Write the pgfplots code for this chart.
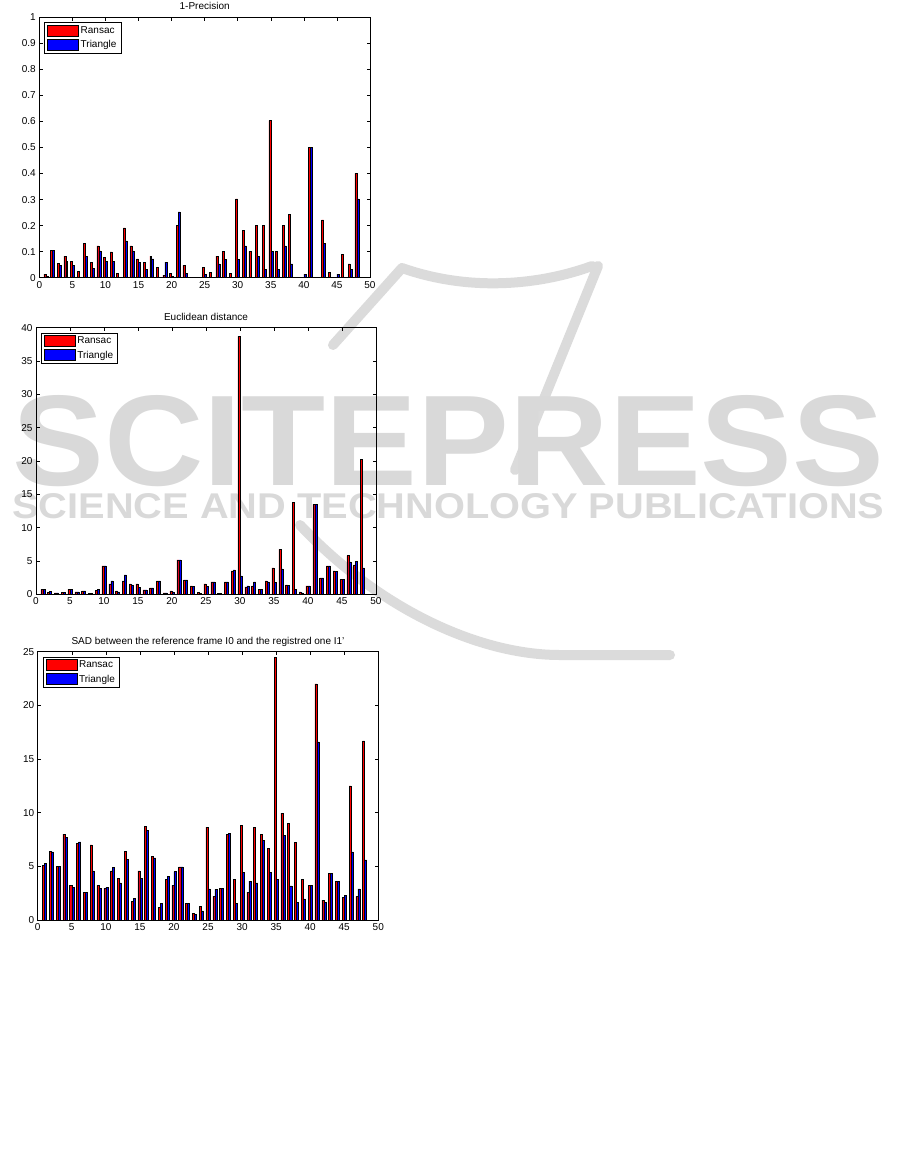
\documentclass[border=0pt]{standalone}
\usepackage{pgfplots}
\usepackage{pgfplotstable}
\pgfplotsset{compat=1.18}
\usepackage{fontspec}
\setmainfont{Liberation Sans}

\pgfplotstableread{
x R T
1 0.014 0.006
2 0.106 0.104
3 0.056 0.047
4 0.083 0.064
5 0.063 0.047
6 0.025 0
7 0.132 0.083
8 0.060 0.036
9 0.122 0.103
10 0.078 0.064
11 0.099 0.064
12 0.018 0
13 0.191 0.141
14 0.122 0.103
15 0.072 0.060
16 0.060 0.033
17 0.083 0.072
18 0.041 0
19 0.010 0.060
20 0.018 0.006
21 0.201 0.253
22 0.047 0.018
23 0 0
24 0 0
25 0.041 0.014
26 0.021 0
27 0.083 0.053
28 0.101 0.071
29 0.018 0
30 0.303 0.069
31 0.182 0.122
32 0.101 0
33 0.201 0.083
34 0.201 0.033
35 0.603 0.101
36 0.101 0.033
37 0.201 0.122
38 0.242 0.053
39 0 0
40 0 0.014
41 0.500 0.500
42 0 0
43 0.222 0.132
44 0.021 0
45 0 0.014
46 0.090 0
47 0.053 0.033
48 0.401 0.303
}\precisiontable

\pgfplotstableread{
x R T
1 0.75 0.7
2 0.3 0.45
3 0.2 0.2
4 0.3 0.3
5 0.75 0.75
6 0.35 0.35
7 0.5 0.5
8 0.15 0.15
9 0.6 0.75
10 4.25 4.25
11 1.55 2.0
12 0.5 0.35
13 2.0 2.9
14 1.55 1.4
15 1.55 1.0
16 0.65 0.65
17 0.95 0.95
18 2.0 2.0
19 0.2 0.2
20 0.5 0.35
21 5.15 5.15
22 2.15 2.15
23 1.25 1.15
24 0.3 0.15
25 1.55 1.2
26 1.85 1.85
27 0.15 0.15
28 1.85 1.85
29 3.5 3.65
30 38.7 2.75
31 1.1 1.25
32 1.25 1.85
33 0.75 0.75
34 2.0 1.85
35 3.95 1.8
36 6.75 3.8
37 1.4 1.3
38 13.8 0.75
39 0.35 0.2
40 1.25 1.25
41 13.5 13.5
42 2.45 2.45
43 4.25 4.25
44 3.5 3.45
45 2.25 2.25
46 5.8 4.85
47 4.4 4.95
48 20.3 3.95
}\euclidtable

\pgfplotstableread{
x R T
1 5.1 5.28
2 6.43 6.34
3 5.03 5.03
4 8.01 7.73
5 3.26 3.07
6 7.17 7.27
7 2.61 2.61
8 6.99 4.57
9 3.23 2.98
10 2.98 3.07
11 4.57 4.9
12 3.88 3.45
13 6.43 5.65
14 1.74 2.05
15 4.57 3.91
16 8.73 8.35
17 5.96 5.78
18 1.21 1.52
19 3.82 4.1
20 3.23 4.5
21 4.94 4.94
22 1.52 1.52
23 0.65 0.56
24 1.3 0.84
25 8.66 2.89
26 2.2 2.86
27 2.98 2.92
28 8.01 8.1
29 3.82 1.58
30 8.85 4.47
31 2.61 3.63
32 8.66 3.45
33 8.01 7.45
34 6.65 4.47
35 24.5 3.82
36 9.97 7.92
37 9.0 3.17
38 7.24 1.65
39 3.82 1.96
40 3.23 3.23
41 22.0 16.6
42 1.86 1.65
43 4.38 4.38
44 3.63 3.63
45 2.14 2.33
46 12.5 6.34
47 2.2 2.89
48 16.7 5.6
}\sadtable

\pgfplotsset{
  matlabbar/.style={
    scale only axis,
    anchor=north west,
    xmin=0, xmax=50,
    xtick={0,5,...,50},
    ymin=0,
    tick align=inside,
    major tick length=3.5pt,
    tick style={black, line width=0.5pt},
    axis line style={black, line width=0.6pt},
    ticklabel style={font=\fontsize{10}{12}\selectfont},
    /pgf/number format/assume math mode=true,
    title style={at={(0.5,1)}, anchor=base, yshift=1.5pt, font=\fontsize{10}{12}\selectfont},
    legend style={at={(axis description cs:0,1)}, anchor=north west,
      xshift=5pt, yshift=-5pt, draw=black, line width=0.6pt, fill=white,
      inner xsep=2.5pt, inner ysep=2pt, row sep=1.5pt,
      font=\fontsize{10}{12}\selectfont},
    legend cell align=left,
  },
  patchleg/.style={legend image code/.code={
    \draw[##1, draw=black, line width=0.6pt] (0pt,-5.5pt) rectangle (31pt,5.5pt);}},
  rbar/.style={ybar, bar width=0.3, bar shift=-0.15, fill=red, draw=black, line width=0.5pt, patchleg},
  bbar/.style={ybar, bar width=0.3, bar shift=0.15, fill=blue, draw=black, line width=0.5pt, patchleg},
}

\begin{document}
\begin{tikzpicture}[x=1pt,y=1pt]
\useasboundingbox (0,0) rectangle (901,-1149);
% watermark of the source page
\begin{scope}[draw=black!14, line width=10pt, line cap=round, line join=round]
\draw (333,-345) -- (402,-268) .. controls (470,-292) and (540,-285) .. (592,-266);
\draw (598,-266) -- (515,-470);
\draw (300,-525) .. controls (380,-610) and (480,-655) .. (560,-655) -- (670,-655);
\end{scope}
\node[anchor=south west, inner sep=0pt, text=black!15] at (12,-487) {\resizebox{872pt}{90pt}{\bfseries SCITEPRESS}};
\node[anchor=south west, inner sep=0pt, text=black!15] at (12,-519) {\resizebox{872pt}{25pt}{\bfseries SCIENCE AND TECHNOLOGY PUBLICATIONS}};

\begin{axis}[matlabbar,
  at={(39.3pt,-17.3pt)}, width=330.7pt, height=260.4pt,
  ymax=1, ytick={0,0.1,...,1},
  title={1-Precision}]
\addplot[rbar] table[x=x,y=R] {\precisiontable};
\addplot[bbar] table[x=x,y=T] {\precisiontable};
\legend{Ransac,Triangle}
\end{axis}

\begin{axis}[matlabbar,
  at={(36pt,-327.7pt)}, width=340pt, height=266.6pt,
  ymax=40, ytick={0,5,...,40},
  title={Euclidean distance}]
\addplot[rbar] table[x=x,y=R] {\euclidtable};
\addplot[bbar] table[x=x,y=T] {\euclidtable};
\legend{Ransac,Triangle}
\end{axis}

\begin{axis}[matlabbar,
  at={(37.7pt,-651.7pt)}, width=340.6pt, height=268.3pt,
  ymax=25, ytick={0,5,...,25},
  title={SAD between the reference frame I0 and the registred one I1\char"0027}]
\addplot[rbar] table[x=x,y=R] {\sadtable};
\addplot[bbar] table[x=x,y=T] {\sadtable};
\legend{Ransac,Triangle}
\end{axis}
\end{tikzpicture}
\end{document}
